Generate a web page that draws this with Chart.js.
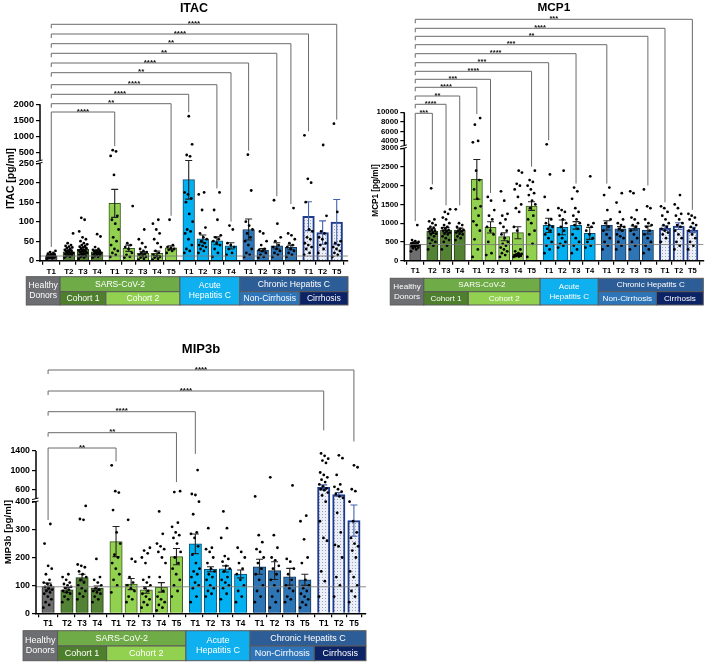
<!DOCTYPE html>
<html><head><meta charset="utf-8">
<script src="https://cdn.jsdelivr.net/npm/chart.js@4.4.0/dist/chart.umd.min.js"></script>
<style>
html,body{margin:0;padding:0;background:#fff;width:708px;height:665px;overflow:hidden;position:relative}
canvas{position:absolute}
</style></head><body>
<canvas id="c1" width="352" height="330" style="left:0;top:0;width:352px;height:330px"></canvas>
<canvas id="c2" width="356" height="330" style="left:352px;top:0;width:356px;height:330px"></canvas>
<canvas id="c3" width="420" height="335" style="left:0;top:330px;width:420px;height:335px"></canvas>
<script>
// ---------------- categories ----------------
const GROUP_IDX = [0,1,1,1,2,2,2,2,2,3,3,3,3,4,4,4,4,5,5,5];
const TIME_LABELS = ['T1','T2','T3','T4','T1','T2','T3','T4','T5','T1','T2','T3','T4','T1','T2','T3','T5','T1','T2','T5'];

// ---------------- ITAC ----------------
const ITAC_TICKS = [0,50,100,150,200,250,500,1000,1500,2000];
const ITAC_MEAN = [12,23,29,23,147,32,19,19,33,208,56,51,38,80,27,38,34,114,72,99];
const ITAC_SEM  = [1.5,4,5,4,36,8,4,6,5,50,10,10,8,27,4,8,6,37,30,58];
const ITAC_PTS = [
 [5,6,7,8,8,9,10,10,11,11,12,12,13,13,14,15,16,17,18,20,22,25],
 [8,10,12,14,15,17,18,20,20,22,24,25,26,28,30,32,34,36,38,40,45,70],
 [5,8,10,12,14,15,16,18,20,20,22,24,25,26,28,30,32,34,36,38,40,42,45,50,55,60,75,105,110],
 [8,10,12,14,15,16,18,20,20,22,24,25,26,28,30,35,62,68],
 [10,15,20,25,30,40,50,60,80,95,105,115,220,400,540,580],
 [8,10,15,20,30,35,40,45,140],
 [3,5,8,10,12,15,18,20,22,25,30,35,45,55,80],
 [3,5,8,10,12,15,20,25,35,45,55,70,80,95,105],
 [20,25,28,30,32,35,40,105],
 [20,25,30,40,55,70,75,80,100,120,150,160,170,175,390,430,760,1630],
 [20,25,30,35,38,40,45,50,55,60,70,85,130,170,175],
 [10,20,30,40,45,50,55,60,65,105,130,175],
 [15,20,30,35,40,45,80,90],
 [10,15,20,30,40,50,60,70,80,90,100,180,440],
 [8,10,15,20,25,28,30,40,50,70,75],
 [10,15,20,25,30,35,40,50,60,95,155],
 [10,15,20,25,30,35,40,45,55,65,70,135],
 [15,20,30,35,40,45,55,60,75,80,150,200,210,1040],
 [20,30,40,45,55,60,70,75,115,740],
 [10,15,20,25,30,35,40,45,50,125,1400]
];
const ITAC_REF = 12;
const ITAC_BRACKETS = [[19,'****'],[17,'****'],[16,'**'],[15,'**'],[13,'****'],[12,'**'],[11,'****'],[9,'****'],[8,'**'],[4,'****']];

// ---------------- MCP1 ----------------
const MCP1_TICKS = [0,500,1000,1500,2000,2500,3000,4000,6000,8000,10000];
const MCP1_MEAN = [440,790,818,818,2169,889,640,747,1458,942,889,942,729,942,853,870,818,870,924,818];
const MCP1_SEM  = [30,60,70,50,530,150,107,160,115,190,196,100,160,125,55,55,105,60,90,70];
const MCP1_PTS = [
 [250,300,330,350,370,380,400,400,410,420,430,440,450,460,470,480,500,520,550,950],
 [300,400,450,500,550,600,650,700,720,750,780,800,820,850,880,900,950,1000,1050,1100,1930],
 [300,400,500,550,600,650,700,720,750,780,800,820,850,870,900,950,1000,1100,1150,1250,1300,1370],
 [550,600,650,700,720,750,780,800,820,850,900,950,1000,1370],
 [100,300,570,800,950,1050,1200,1400,1450,1650,1900,2150,2400,3700,4000,7400,8800],
 [150,200,500,700,800,900,1100,1200,1350,1600,1700],
 [100,150,200,250,300,350,400,450,500,600,700,800,900,1000,1100,1200,1250,1600,1850],
 [100,110,120,130,140,150,160,170,180,200,250,300,800,900,1300,1400,1500,1700,1900,2000,2050,2350,2400],
 [100,450,700,800,1000,1100,1200,1400,1500,1600,1750,1800,1900,2000,2100,2150,2400],
 [200,300,400,500,600,700,800,850,900,950,1000,1100,1350,1700,2300,3300],
 [350,400,450,500,600,700,800,900,1000,1100,1200,1300,1350,1400,2400],
 [200,300,400,500,600,700,850,950,1000,1100,1200,1300,1400,1650,1850,1950],
 [350,400,500,600,700,800,900,950,1000,2250],
 [300,400,500,600,700,800,900,1000,1100,1350,1750,1950],
 [300,400,500,600,650,700,800,850,900,950,1000,1100,1300,1550,1800],
 [300,400,500,600,700,800,900,950,1000,1100,1150,1350,1800,1850],
 [200,300,400,500,600,700,800,900,950,1000,1100,1400,1450,1900],
 [500,600,700,750,800,850,900,950,1000,1100,1200,1300,1400,1450],
 [300,400,500,600,700,800,900,950,1000,1100,1200,1250,1400,1500,1750],
 [300,400,500,600,700,800,850,900,950,1000,1100,1150,1200,1250]
];
const MCP1_REF = 430;
const MCP1_BRACKETS = [[19,'***'],[17,'****'],[16,'**'],[13,'***'],[11,'****'],[9,'***'],[8,'****'],[5,'***'],[4,'****'],[3,'**'],[2,'****'],[1,'***']];

// ---------------- MIP3b ----------------
const MIP3B_TICKS = [0,100,200,300,400,600,1000,1400];
const MIP3B_MEAN = [96,84,128,90,257,105,84,93,203,249,158,159,141,167,153,131,120,642,490,332];
const MIP3B_SEM  = [12,9,12,8,54,20,12,17,29,35,9,11,14,27,32,30,20,50,40,56];
const MIP3B_PTS = [
 [20,30,40,50,60,70,75,80,85,90,95,100,105,110,120,140,160,170,250,320],
 [40,50,60,70,75,80,85,90,95,100,105,110,120,130,140],
 [50,60,70,80,90,100,110,120,130,140,150,165,170,175,335,338,385],
 [40,50,60,70,75,80,85,90,100,110,120,130,195],
 [75,100,120,140,160,180,200,210,250,290,370,530,560,1100],
 [40,50,60,80,90,100,110,130,185,195,335],
 [20,30,40,50,60,70,80,90,100,110,120,130,180,200,215,225,235],
 [10,20,30,40,50,60,80,130,180,200,220,230,240,250,285,365],
 [60,80,100,120,140,160,180,200,220,250,270,280,290,310,325,540,560],
 [40,60,90,100,110,130,140,150,160,180,210,240,270,285,290,355,400,480,500,1000],
 [60,70,80,90,100,120,130,140,150,160,180,200,220,230,235,305],
 [50,70,90,100,110,120,130,150,160,170,185,195,205,270,305,365],
 [40,60,80,100,120,140,160,180,200,220,235],
 [40,60,80,100,120,140,160,180,200,220,230,255,280,450],
 [20,40,60,80,100,120,140,160,170,190,200,235,280,850],
 [40,50,60,80,90,100,120,140,160,185,195,680],
 [20,30,40,50,60,70,80,90,100,120,180,200,265,330,350],
 [60,115,150,260,270,330,400,470,530,580,600,620,660,700,750,800,850,900,950,1150,1200,1240,1300,1350],
 [60,100,130,200,240,245,290,360,420,450,500,550,600,650,700,900,1250,1310],
 [40,60,80,100,130,150,200,225,240,250,270,290,330,400,560,600,1060,1100]
];
const MIP3B_REF = 95;
const MIP3B_BRACKETS = [[19,'****',1600],[17,'****',1830],[9,'****',1340],[8,'**',750],[4,'**',null]];

// ---------------- group table ----------------
const TABLE_CELLS = [
 {from:0, to:0, row:'full', color:'#6d6e71', text:['Healthy','Donors']},
 {from:1, to:8, row:'top', color:'#6fab46', text:['SARS-CoV-2']},
 {from:1, to:3, row:'bottom', color:'#4e7f2c', text:['Cohort 1']},
 {from:4, to:8, row:'bottom', color:'#92d050', text:['Cohort 2']},
 {from:9, to:12, row:'full', color:'#0eb0ef', text:['Acute','Hepatitis C']},
 {from:13, to:19, row:'top', color:'#2d5d96', text:['Chronic Hepatits C']},
 {from:13, to:16, row:'bottom', color:'#2e74b8', text:['Non-Cirrhosis']},
 {from:17, to:19, row:'bottom', color:'#0c2466', text:['Cirrhosis']}
];

// ---------------- styling / layout ----------------
const GROUP_FILL = ['#6e6e6e','#548235','#92d050','#00b0f0','#2e75b6',null];
const GROUP_BORDER = ['#2a2a2a','#243d15','#3a5a1c','#0a4f70','#15365a','#1f3c8c'];
const POS = GROUP_IDX.map((g,i)=> i + 0.25*g);
const XMIN = -0.8, XMAX = 21.05;
const FONT = "'Liberation Sans', Arial, sans-serif";

const PANELS = {
 c1: {title:'ITAC', ytitle:'ITAC [pg/ml]', ticks:ITAC_TICKS, mean:ITAC_MEAN, sem:ITAC_SEM, pts:ITAC_PTS, ref:ITAC_REF,
      brackets:ITAC_BRACKETS, bracketY:[24.3,34,43.7,53.3,63,72.7,84.7,94.3,103.7,112],
      brk:250, ymax:2000, lowerFrac:0.6234, gap:2.4,
      w:352, h:330, yW:40, padT:104.3, padR:2, padB:51.3, titleY:8.5, ytitleX:11, ytitleDy:-4, table:[16,31,44.3],
      fTitle:12.5, fY:9.2, fX:8, fYT:10.4, fTab:8.6, fStar:8},
 c2: {title:'MCP1', ytitle:'MCP1 [pg/ml]', ticks:MCP1_TICKS, mean:MCP1_MEAN, sem:MCP1_SEM, pts:MCP1_PTS, ref:MCP1_REF,
      brackets:MCP1_BRACKETS, bracketY:[19.3,28.3,36.3,44.7,53.7,62.7,71.3,79.3,87.3,96,104.3,113.3],
      brk:3000, ymax:10000, lowerFrac:0.758, gap:2.5,
      w:356, h:330, yW:52.3, padT:112.3, padR:4.7, padB:51.3, titleY:7.5, ytitleX:24, ytitleDy:4, table:[17.6,31,44.3],
      fTitle:11.8, fY:7.8, fX:7.6, fYT:8.2, fTab:8.1, fStar:7.5},
 c3: {title:'MIP3b', ytitle:'MIP3b [pg/ml]', ticks:MIP3B_TICKS, mean:MIP3B_MEAN, sem:MIP3B_SEM, pts:MIP3B_PTS, ref:MIP3B_REF,
      brackets:MIP3B_BRACKETS, bracketY:[40,61,81.7,102.7,118],
      brk:400, ymax:1400, lowerFrac:0.6876, gap:2.9,
      w:420, h:335, yW:36, padT:121, padR:54, padB:33.7, titleY:19.5, ytitleX:8.5, ytitleDy:0, table:[17.4,32.7,47.4],
      fTitle:13, fY:8.8, fX:8.2, fYT:9.8, fTab:9, fStar:8}
};

// ---------------- broken y scale ----------------
class BrokenScale extends Chart.LinearScale {
  _cfg(){ return PANELS[this.chart.canvas.id]; }
  buildTicks(){ return this._cfg().ticks.map(v=>({value:v})); }
  getPixelForValue(v){
    const c = this._cfg();
    const H = this.bottom - this.top, hL = H*c.lowerFrac;
    if (v <= c.brk) return this.bottom - v/c.brk*hL;
    const hU = H - hL - c.gap;
    return this.bottom - hL - c.gap - (v - c.brk)/(c.ymax - c.brk)*hU;
  }
  getValueForPixel(p){
    const c = this._cfg();
    const H = this.bottom - this.top, hL = H*c.lowerFrac;
    if (p >= this.bottom - hL) return (this.bottom - p)/hL*c.brk;
    const hU = H - hL - c.gap;
    return c.brk + (this.bottom - hL - c.gap - p)/hU*(c.ymax - c.brk);
  }
}
BrokenScale.id = 'broken';
BrokenScale.defaults = {};
Chart.register(BrokenScale);

function makePattern(ctx){
  const c = document.createElement('canvas'); c.width = 3; c.height = 3;
  const g = c.getContext('2d');
  g.fillStyle = '#eceff6'; g.fillRect(0,0,3,3);
  g.fillStyle = '#97a3c4'; g.fillRect(1,1,1,1);
  return ctx.createPattern(c,'repeat');
}

const decor = {
  id:'decor',
  afterDatasetDraw(chart, args){
    if (args.index !== 0) return;
    const P = PANELS[chart.canvas.id], x = chart.scales.x, y = chart.scales.y, ctx = chart.ctx;
    ctx.save();
    P.mean.forEach((m,i)=>{
      const px = x.getPixelForValue(POS[i]);
      const t = y.getPixelForValue(m + P.sem[i]), b = y.getPixelForValue(Math.max(0, m - P.sem[i]));
      ctx.strokeStyle = GROUP_IDX[i]===5 ? '#4563ad' : '#222';
      ctx.lineWidth = 1.1;
      ctx.beginPath();
      ctx.moveTo(px,t); ctx.lineTo(px,b);
      ctx.moveTo(px-3.5,t); ctx.lineTo(px+3.5,t);
      ctx.moveTo(px-3.5,b); ctx.lineTo(px+3.5,b);
      ctx.stroke();
    });
    ctx.restore();
  },
  afterDatasetsDraw(chart){
    const P = PANELS[chart.canvas.id], y = chart.scales.y, ctx = chart.ctx, a = chart.chartArea;
    const py = y.getPixelForValue(P.ref);
    ctx.save();
    ctx.strokeStyle = 'rgba(120,120,120,0.85)'; ctx.lineWidth = 1;
    ctx.beginPath(); ctx.moveTo(a.left, py); ctx.lineTo(a.right, py); ctx.stroke();
    ctx.restore();
  },
  afterDraw(chart){
    const P = PANELS[chart.canvas.id], x = chart.scales.x, y = chart.scales.y, ctx = chart.ctx, a = chart.chartArea;
    ctx.save();
    // y axis line with break
    const X = a.left;
    const H = y.bottom - y.top, pb = y.bottom - H*P.lowerFrac, pu = pb - P.gap;
    ctx.strokeStyle = '#000'; ctx.lineWidth = 1.5;
    ctx.beginPath(); ctx.moveTo(X, y.bottom+0.75); ctx.lineTo(X, pb); ctx.moveTo(X, pu); ctx.lineTo(X, y.top); ctx.stroke();
    ctx.lineWidth = 1;
    ctx.beginPath();
    ctx.moveTo(X-4, pb+0.8); ctx.lineTo(X+2.5, pb-0.8);
    ctx.moveTo(X-4, pu+0.8); ctx.lineTo(X+2.5, pu-0.8);
    ctx.stroke();

    // title
    ctx.fillStyle = '#000';
    ctx.font = 'bold ' + P.fTitle + 'px ' + FONT;
    ctx.textAlign = 'center'; ctx.textBaseline = 'middle';
    ctx.fillText(P.title, (a.left + a.right)/2, P.titleY);

    // y title
    ctx.save();
    ctx.translate(P.ytitleX, (a.top + a.bottom)/2 + P.ytitleDy);
    ctx.rotate(-Math.PI/2);
    ctx.font = 'bold ' + P.fYT + 'px ' + FONT;
    ctx.fillText(P.ytitle, 0, 0);
    ctx.restore();

    // significance brackets
    const xL = x.getPixelForValue(POS[0]);
    ctx.strokeStyle = '#6a6a6a'; ctx.lineWidth = 1;
    ctx.font = 'bold ' + P.fStar + 'px ' + FONT; ctx.textBaseline = 'alphabetic'; ctx.fillStyle = '#111';
    P.brackets.forEach((br,k)=>{
      const ti = br[0], label = br[1], endVal = br[2];
      const yy = P.bracketY[k];
      const xR = x.getPixelForValue(POS[ti]);
      const yEnd = (endVal != null) ? y.getPixelForValue(endVal) : y.getPixelForValue(Math.max(...P.pts[ti])) - 4;
      const last = (k === P.brackets.length - 1);
      const yLeft = last ? y.getPixelForValue(Math.max(...P.pts[0])) - 4 : yy + 4;
      ctx.beginPath();
      ctx.moveTo(xL, yLeft); ctx.lineTo(xL, yy); ctx.lineTo(xR, yy); ctx.lineTo(xR, yEnd);
      ctx.stroke();
      ctx.fillText(label, (xL + xR)/2, yy + 1.5);
    });

    // group table
    const pix = i => x.getPixelForValue(POS[i]);
    const edgeL = i => i === 0 ? pix(0) - 25 : (pix(i-1) + pix(i))/2;
    const edgeR = i => i === POS.length - 1 ? a.right : (pix(i) + pix(i+1))/2;
    const base = a.bottom;
    const t0 = base + P.table[0], t1 = base + P.table[1], t2 = base + P.table[2];
    ctx.font = P.fTab + 'px ' + FONT; ctx.textBaseline = 'middle'; ctx.textAlign = 'center';
    TABLE_CELLS.forEach(c=>{
      const l = edgeL(c.from), r = edgeR(c.to);
      let top, bot;
      if (c.row === 'full') { top = t0; bot = t2; }
      else if (c.row === 'top') { top = t0; bot = t1; }
      else { top = t1; bot = t2; }
      ctx.fillStyle = c.color; ctx.fillRect(l, top, r-l, bot-top);
      ctx.strokeStyle = '#5a5a5a'; ctx.lineWidth = 1;
      ctx.strokeRect(l, top, r-l, bot-top);
      ctx.fillStyle = '#fff';
      const cy = (top + bot)/2, n = c.text.length;
      c.text.forEach((s,j)=> ctx.fillText(s, (l+r)/2, cy + (j - (n-1)/2)*(P.fTab+1.5)));
    });
    ctx.restore();
  }
};

function makeChart(id){
  const P = PANELS[id];
  const canvas = document.getElementById(id);
  const ctx = canvas.getContext('2d');
  const pat = makePattern(ctx);
  const plotW = P.w - P.yW - P.padR;
  const barW = plotW/(XMAX - XMIN)*0.82;
  const scatter = [];
  P.pts.forEach((arr,i)=>{
    arr.forEach((v,k)=>{
      const off = (((k*0.618034) % 1) - 0.5) * 0.62;
      scatter.push({x: POS[i] + off, y: v});
    });
  });
  new Chart(ctx, {
    type:'bar',
    data:{datasets:[
      {type:'bar', data: POS.map((p,i)=>({x:p, y:P.mean[i]})),
       backgroundColor: GROUP_IDX.map(g=> g===5 ? pat : GROUP_FILL[g]),
       borderColor: GROUP_IDX.map(g=> GROUP_BORDER[g]),
       borderWidth: GROUP_IDX.map(g=> g===5 ? 2 : 1),
       barThickness: barW, order: 2},
      {type:'scatter', data: scatter, pointRadius: 1.4, pointBackgroundColor:'#000', pointBorderWidth:0, order: 1, clip:false}
    ]},
    options:{
      responsive:false, animation:false, devicePixelRatio:1,
      layout:{padding:{top:P.padT, right:P.padR, bottom:P.padB, left:0}},
      plugins:{legend:{display:false}, tooltip:{enabled:false}, title:{display:false}},
      events:[],
      scales:{
        x:{type:'linear', min:XMIN, max:XMAX, offset:false,
           afterBuildTicks: s => { s.ticks = POS.map(v=>({value:v})); },
           afterFit: s => { s.height = 18; },
           ticks:{autoSkip:false, maxRotation:0, padding:2, color:'#000', font:{family:FONT, size:P.fX, weight:'bold'},
                  callback:(v,i)=> TIME_LABELS[i]},
           grid:{drawOnChartArea:false, drawTicks:true, tickLength:4, color:'#000', lineWidth:1.2},
           border:{display:true, color:'#000', width:1.5}},
        y:{type:'broken', min:0, max:P.ymax,
           afterFit: s => { s.width = P.yW; },
           ticks:{autoSkip:false, padding:2, color:'#000', font:{family:FONT, size:P.fY, weight:'bold'},
                  callback: v => String(v)},
           grid:{drawOnChartArea:false, drawTicks:true, tickLength:4, color:'#000', lineWidth:1.2},
           border:{display:false}}
      }
    },
    plugins:[decor]
  });
}
['c1','c2','c3'].forEach(makeChart);
</script>
</body></html>
